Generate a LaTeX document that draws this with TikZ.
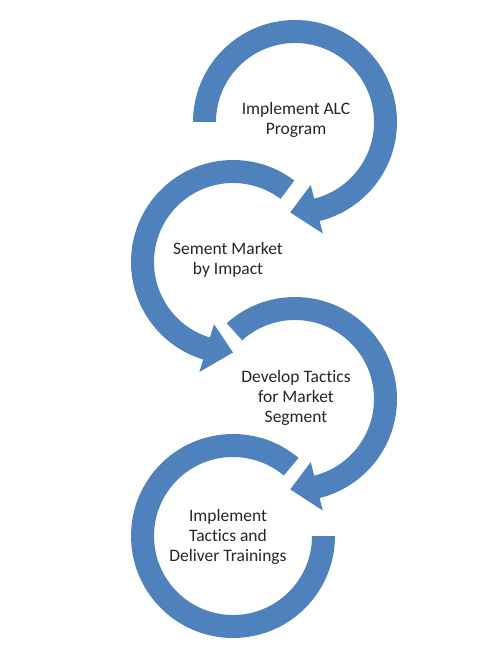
\documentclass[tikz,border=0pt]{standalone}
\usepackage{fontspec}
\setmainfont{Carlito}[Ligatures=NoCommon]
\usepackage{xcolor}
\usepackage{tikz}
\usetikzlibrary{positioning,calc}
\definecolor{ringB}{HTML}{4F81BD}

\begin{document}
\begin{tikzpicture}[
  x=1pt,y=1pt,
  every node/.style={align=center},
  ring/.style={fill=ringB},
  label/.style={font=\fontsize{17.5}{20}\selectfont,text=black!85}
]
\useasboundingbox (0,0) rectangle (478,-655);

% Top ring, clockwise with head
\fill[ring,shift={(295,-122)}] (180:102) arc[start angle=180,end angle=-76,radius=102]
  -- (-76:115) -- (-93:90.5) -- (-76:65) -- (-76:79)
  arc[start angle=-76,end angle=180,radius=79] -- cycle;
\node[label] (alc) at (296,-120) {Implement ALC\\Program};

% Second ring, counter-clockwise with head
\fill[ring,shift={(233,-262)}] (53:102) arc[start angle=53,end angle=253,radius=102]
  -- (253:115) -- (270:90.5) -- (253:65) -- (253:79)
  arc[start angle=253,end angle=53,radius=79] -- cycle;
\node[label] (seg) at (228,-260) {Sement Market\\by Impact};

% Third ring, clockwise with head
\fill[ring,shift={(295,-399)}] (132:102) arc[start angle=132,end angle=-76,radius=102]
  -- (-76:115) -- (-93:90.5) -- (-76:65) -- (-76:79)
  arc[start angle=-76,end angle=132,radius=79] -- cycle;
\node[label] (tac) at (296,-398) {Develop Tactics\\for Market\\Segment};

% Bottom ring, no head
\fill[ring,shift={(233,-536)}] (50:102) arc[start angle=50,end angle=360,radius=102]
  -- (0:79) arc[start angle=360,end angle=50,radius=79] -- cycle;
\node[label] (del) at (228,-537) {Implement\\Tactics and\\Deliver Trainings};
\end{tikzpicture}
\end{document}
